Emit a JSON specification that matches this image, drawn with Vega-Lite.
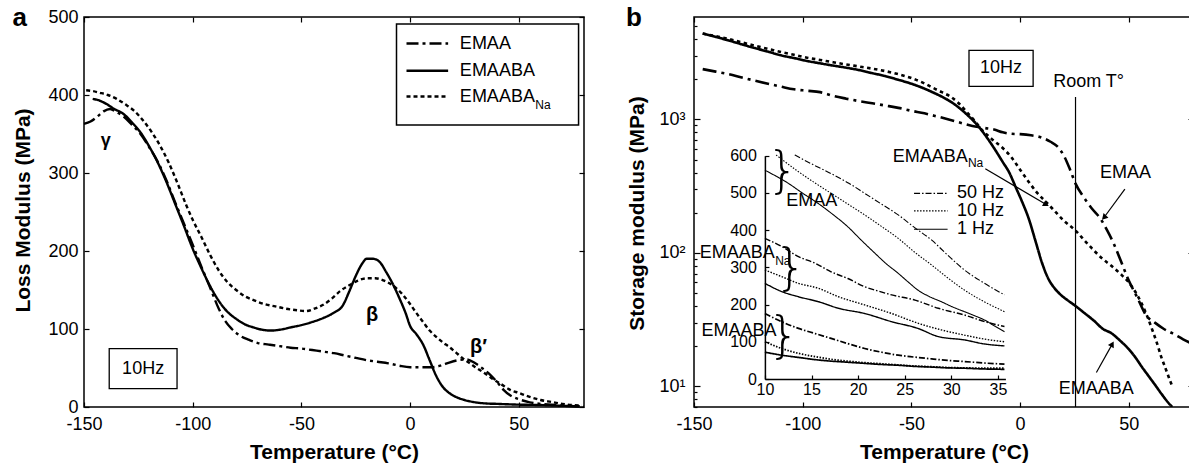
{
"$schema": "https://vega.github.io/schema/vega-lite/v6.json",
"background": "white",
"padding": {"left": 11, "top": 4, "right": 0, "bottom": 0},
"config": {
 "font": "Liberation Sans",
 "view": {"stroke": "black", "strokeWidth": 1.5},
 "axis": {"grid": false, "domain": false, "tickColor": "black", "tickWidth": 1.2, "labelColor": "black", "titleColor": "black", "labelFontSize": 18, "labelFont": "Liberation Sans", "titleFont": "Liberation Sans", "titleFontSize": 21, "titleFontWeight": "bold", "labelFlush": false, "labelOverlap": false},
 "text": {"color": "black", "font": "Liberation Sans"}
},
"datasets": {
 "a": [
  {"T":-150,"E":363,"material":"EMAA"},{"T":-147,"E":366,"material":"EMAA"},{"T":-144,"E":372,"material":"EMAA"},{"T":-141,"E":379,"material":"EMAA"},{"T":-138,"E":382,"material":"EMAA"},{"T":-135,"E":378,"material":"EMAA"},{"T":-132,"E":373,"material":"EMAA"},{"T":-128,"E":362,"material":"EMAA"},{"T":-124,"E":350,"material":"EMAA"},{"T":-120,"E":333,"material":"EMAA"},{"T":-116,"E":314,"material":"EMAA"},{"T":-112,"E":290,"material":"EMAA"},{"T":-108,"E":262,"material":"EMAA"},{"T":-104,"E":235,"material":"EMAA"},{"T":-100,"E":208,"material":"EMAA"},{"T":-96,"E":180,"material":"EMAA"},{"T":-92,"E":153,"material":"EMAA"},{"T":-88,"E":126,"material":"EMAA"},{"T":-85,"E":110,"material":"EMAA"},{"T":-82,"E":100,"material":"EMAA"},{"T":-78,"E":91,"material":"EMAA"},{"T":-74,"E":86,"material":"EMAA"},{"T":-70,"E":82,"material":"EMAA"},{"T":-65,"E":80,"material":"EMAA"},{"T":-60,"E":78,"material":"EMAA"},{"T":-55,"E":76,"material":"EMAA"},{"T":-50,"E":75,"material":"EMAA"},{"T":-45,"E":73,"material":"EMAA"},{"T":-40,"E":71,"material":"EMAA"},{"T":-35,"E":69,"material":"EMAA"},{"T":-30,"E":66,"material":"EMAA"},{"T":-25,"E":63,"material":"EMAA"},{"T":-20,"E":60,"material":"EMAA"},{"T":-15,"E":58,"material":"EMAA"},{"T":-10,"E":56,"material":"EMAA"},{"T":-5,"E":53,"material":"EMAA"},{"T":0,"E":51,"material":"EMAA"},{"T":5,"E":51,"material":"EMAA"},{"T":10,"E":51,"material":"EMAA"},{"T":14,"E":53,"material":"EMAA"},{"T":18,"E":57,"material":"EMAA"},{"T":22,"E":60,"material":"EMAA"},{"T":26,"E":61,"material":"EMAA"},{"T":30,"E":56,"material":"EMAA"},{"T":34,"E":48,"material":"EMAA"},{"T":37,"E":41,"material":"EMAA"},{"T":40,"E":32,"material":"EMAA"},{"T":43,"E":22,"material":"EMAA"},{"T":46,"E":15,"material":"EMAA"},{"T":50,"E":10,"material":"EMAA"},{"T":55,"E":6,"material":"EMAA"},{"T":60,"E":4,"material":"EMAA"},{"T":65,"E":3,"material":"EMAA"},{"T":70,"E":2,"material":"EMAA"},{"T":75,"E":1,"material":"EMAA"},{"T":80,"E":0.5,"material":"EMAA"},
  {"T":-146,"E":395,"material":"EMAABA"},{"T":-143,"E":393,"material":"EMAABA"},{"T":-140,"E":389,"material":"EMAABA"},{"T":-136,"E":382,"material":"EMAABA"},{"T":-132,"E":376,"material":"EMAABA"},{"T":-128,"E":365,"material":"EMAABA"},{"T":-124,"E":352,"material":"EMAABA"},{"T":-120,"E":334,"material":"EMAABA"},{"T":-116,"E":313,"material":"EMAABA"},{"T":-112,"E":288,"material":"EMAABA"},{"T":-108,"E":260,"material":"EMAABA"},{"T":-104,"E":232,"material":"EMAABA"},{"T":-100,"E":203,"material":"EMAABA"},{"T":-96,"E":178,"material":"EMAABA"},{"T":-92,"E":155,"material":"EMAABA"},{"T":-88,"E":136,"material":"EMAABA"},{"T":-84,"E":122,"material":"EMAABA"},{"T":-80,"E":113,"material":"EMAABA"},{"T":-76,"E":106,"material":"EMAABA"},{"T":-72,"E":102,"material":"EMAABA"},{"T":-68,"E":99,"material":"EMAABA"},{"T":-64,"E":98,"material":"EMAABA"},{"T":-60,"E":99,"material":"EMAABA"},{"T":-55,"E":102,"material":"EMAABA"},{"T":-50,"E":105,"material":"EMAABA"},{"T":-45,"E":109,"material":"EMAABA"},{"T":-40,"E":114,"material":"EMAABA"},{"T":-35,"E":121,"material":"EMAABA"},{"T":-31,"E":130,"material":"EMAABA"},{"T":-28,"E":148,"material":"EMAABA"},{"T":-25,"E":168,"material":"EMAABA"},{"T":-22,"E":184,"material":"EMAABA"},{"T":-20,"E":190,"material":"EMAABA"},{"T":-17,"E":190,"material":"EMAABA"},{"T":-14,"E":186,"material":"EMAABA"},{"T":-11,"E":173,"material":"EMAABA"},{"T":-8,"E":158,"material":"EMAABA"},{"T":-5,"E":140,"material":"EMAABA"},{"T":-2,"E":120,"material":"EMAABA"},{"T":0,"E":104,"material":"EMAABA"},{"T":3,"E":93,"material":"EMAABA"},{"T":6,"E":80,"material":"EMAABA"},{"T":9,"E":60,"material":"EMAABA"},{"T":12,"E":40,"material":"EMAABA"},{"T":15,"E":26,"material":"EMAABA"},{"T":18,"E":18,"material":"EMAABA"},{"T":21,"E":13,"material":"EMAABA"},{"T":25,"E":9,"material":"EMAABA"},{"T":30,"E":6,"material":"EMAABA"},{"T":35,"E":4.5,"material":"EMAABA"},{"T":40,"E":4,"material":"EMAABA"},{"T":50,"E":3,"material":"EMAABA"},{"T":60,"E":2.5,"material":"EMAABA"},{"T":70,"E":1.5,"material":"EMAABA"},{"T":78,"E":1,"material":"EMAABA"},
  {"T":-149,"E":406,"material":"EMAABA_Na"},{"T":-146,"E":405,"material":"EMAABA_Na"},{"T":-143,"E":403,"material":"EMAABA_Na"},{"T":-139,"E":400,"material":"EMAABA_Na"},{"T":-135,"E":395,"material":"EMAABA_Na"},{"T":-131,"E":388,"material":"EMAABA_Na"},{"T":-127,"E":380,"material":"EMAABA_Na"},{"T":-123,"E":368,"material":"EMAABA_Na"},{"T":-119,"E":353,"material":"EMAABA_Na"},{"T":-115,"E":335,"material":"EMAABA_Na"},{"T":-111,"E":313,"material":"EMAABA_Na"},{"T":-107,"E":287,"material":"EMAABA_Na"},{"T":-103,"E":259,"material":"EMAABA_Na"},{"T":-100,"E":240,"material":"EMAABA_Na"},{"T":-96,"E":218,"material":"EMAABA_Na"},{"T":-92,"E":195,"material":"EMAABA_Na"},{"T":-88,"E":175,"material":"EMAABA_Na"},{"T":-84,"E":160,"material":"EMAABA_Na"},{"T":-80,"E":150,"material":"EMAABA_Na"},{"T":-76,"E":142,"material":"EMAABA_Na"},{"T":-72,"E":137,"material":"EMAABA_Na"},{"T":-67,"E":132,"material":"EMAABA_Na"},{"T":-62,"E":129,"material":"EMAABA_Na"},{"T":-57,"E":126,"material":"EMAABA_Na"},{"T":-52,"E":124,"material":"EMAABA_Na"},{"T":-48,"E":123,"material":"EMAABA_Na"},{"T":-44,"E":126,"material":"EMAABA_Na"},{"T":-40,"E":131,"material":"EMAABA_Na"},{"T":-36,"E":139,"material":"EMAABA_Na"},{"T":-32,"E":149,"material":"EMAABA_Na"},{"T":-28,"E":156,"material":"EMAABA_Na"},{"T":-24,"E":162,"material":"EMAABA_Na"},{"T":-20,"E":165,"material":"EMAABA_Na"},{"T":-16,"E":165,"material":"EMAABA_Na"},{"T":-12,"E":162,"material":"EMAABA_Na"},{"T":-8,"E":156,"material":"EMAABA_Na"},{"T":-4,"E":146,"material":"EMAABA_Na"},{"T":0,"E":132,"material":"EMAABA_Na"},{"T":3,"E":120,"material":"EMAABA_Na"},{"T":6,"E":109,"material":"EMAABA_Na"},{"T":9,"E":98,"material":"EMAABA_Na"},{"T":12,"E":90,"material":"EMAABA_Na"},{"T":15,"E":83,"material":"EMAABA_Na"},{"T":18,"E":77,"material":"EMAABA_Na"},{"T":21,"E":70,"material":"EMAABA_Na"},{"T":24,"E":63,"material":"EMAABA_Na"},{"T":27,"E":57,"material":"EMAABA_Na"},{"T":30,"E":51,"material":"EMAABA_Na"},{"T":34,"E":44,"material":"EMAABA_Na"},{"T":38,"E":36,"material":"EMAABA_Na"},{"T":42,"E":29,"material":"EMAABA_Na"},{"T":46,"E":22,"material":"EMAABA_Na"},{"T":50,"E":18,"material":"EMAABA_Na"},{"T":55,"E":13,"material":"EMAABA_Na"},{"T":60,"E":9,"material":"EMAABA_Na"},{"T":65,"E":6.5,"material":"EMAABA_Na"},{"T":70,"E":4,"material":"EMAABA_Na"},{"T":75,"E":2.5,"material":"EMAABA_Na"},{"T":79,"E":2,"material":"EMAABA_Na"}
 ],
 "b": [
  {"T":-146,"E":2380,"material":"EMAA"},{"T":-140,"E":2280,"material":"EMAA"},{"T":-134,"E":2180,"material":"EMAA"},{"T":-128,"E":2060,"material":"EMAA"},{"T":-122,"E":1950,"material":"EMAA"},{"T":-116,"E":1850,"material":"EMAA"},{"T":-110,"E":1760,"material":"EMAA"},{"T":-104,"E":1680,"material":"EMAA"},{"T":-98,"E":1640,"material":"EMAA"},{"T":-92,"E":1600,"material":"EMAA"},{"T":-86,"E":1500,"material":"EMAA"},{"T":-80,"E":1430,"material":"EMAA"},{"T":-74,"E":1370,"material":"EMAA"},{"T":-68,"E":1320,"material":"EMAA"},{"T":-62,"E":1270,"material":"EMAA"},{"T":-56,"E":1220,"material":"EMAA"},{"T":-50,"E":1160,"material":"EMAA"},{"T":-44,"E":1110,"material":"EMAA"},{"T":-38,"E":1050,"material":"EMAA"},{"T":-32,"E":990,"material":"EMAA"},{"T":-26,"E":930,"material":"EMAA"},{"T":-20,"E":880,"material":"EMAA"},{"T":-16,"E":860,"material":"EMAA"},{"T":-12,"E":840,"material":"EMAA"},{"T":-8,"E":800,"material":"EMAA"},{"T":-4,"E":780,"material":"EMAA"},{"T":0,"E":775,"material":"EMAA"},{"T":5,"E":760,"material":"EMAA"},{"T":10,"E":730,"material":"EMAA"},{"T":14,"E":680,"material":"EMAA"},{"T":17,"E":630,"material":"EMAA"},{"T":20,"E":540,"material":"EMAA"},{"T":23,"E":420,"material":"EMAA"},{"T":25.5,"E":330,"material":"EMAA"},{"T":29,"E":265,"material":"EMAA"},{"T":33,"E":215,"material":"EMAA"},{"T":37,"E":180,"material":"EMAA"},{"T":40,"E":148,"material":"EMAA"},{"T":43,"E":118,"material":"EMAA"},{"T":46,"E":90,"material":"EMAA"},{"T":50,"E":62,"material":"EMAA"},{"T":54,"E":46,"material":"EMAA"},{"T":58,"E":34,"material":"EMAA"},{"T":62,"E":30,"material":"EMAA"},{"T":66,"E":27,"material":"EMAA"},{"T":70,"E":25,"material":"EMAA"},{"T":75,"E":22.5,"material":"EMAA"},{"T":80,"E":20.5,"material":"EMAA"},
  {"T":-146,"E":4400,"material":"EMAABA"},{"T":-140,"E":4150,"material":"EMAABA"},{"T":-134,"E":3900,"material":"EMAABA"},{"T":-128,"E":3650,"material":"EMAABA"},{"T":-122,"E":3420,"material":"EMAABA"},{"T":-116,"E":3220,"material":"EMAABA"},{"T":-110,"E":3020,"material":"EMAABA"},{"T":-104,"E":2880,"material":"EMAABA"},{"T":-98,"E":2740,"material":"EMAABA"},{"T":-92,"E":2630,"material":"EMAABA"},{"T":-86,"E":2530,"material":"EMAABA"},{"T":-80,"E":2440,"material":"EMAABA"},{"T":-74,"E":2340,"material":"EMAABA"},{"T":-68,"E":2220,"material":"EMAABA"},{"T":-62,"E":2110,"material":"EMAABA"},{"T":-56,"E":1980,"material":"EMAABA"},{"T":-50,"E":1850,"material":"EMAABA"},{"T":-44,"E":1700,"material":"EMAABA"},{"T":-40,"E":1590,"material":"EMAABA"},{"T":-36,"E":1480,"material":"EMAABA"},{"T":-32,"E":1360,"material":"EMAABA"},{"T":-28,"E":1220,"material":"EMAABA"},{"T":-24,"E":1070,"material":"EMAABA"},{"T":-20,"E":920,"material":"EMAABA"},{"T":-16,"E":760,"material":"EMAABA"},{"T":-12,"E":610,"material":"EMAABA"},{"T":-8,"E":480,"material":"EMAABA"},{"T":-5,"E":400,"material":"EMAABA"},{"T":-2,"E":310,"material":"EMAABA"},{"T":1,"E":240,"material":"EMAABA"},{"T":4,"E":180,"material":"EMAABA"},{"T":7,"E":124,"material":"EMAABA"},{"T":10,"E":85,"material":"EMAABA"},{"T":13,"E":64,"material":"EMAABA"},{"T":16,"E":54,"material":"EMAABA"},{"T":19,"E":48,"material":"EMAABA"},{"T":22,"E":44,"material":"EMAABA"},{"T":25.5,"E":40,"material":"EMAABA"},{"T":30,"E":35,"material":"EMAABA"},{"T":34,"E":31,"material":"EMAABA"},{"T":38,"E":27,"material":"EMAABA"},{"T":42,"E":25,"material":"EMAABA"},{"T":46,"E":22,"material":"EMAABA"},{"T":50,"E":19,"material":"EMAABA"},{"T":53,"E":16.5,"material":"EMAABA"},{"T":56,"E":14,"material":"EMAABA"},{"T":59,"E":12,"material":"EMAABA"},{"T":62,"E":10.3,"material":"EMAABA"},{"T":65,"E":8.8,"material":"EMAABA"},{"T":68,"E":7.6,"material":"EMAABA"},{"T":70,"E":7,"material":"EMAABA"},
  {"T":-146,"E":4400,"material":"EMAABA_Na"},{"T":-140,"E":4200,"material":"EMAABA_Na"},{"T":-134,"E":4000,"material":"EMAABA_Na"},{"T":-128,"E":3780,"material":"EMAABA_Na"},{"T":-122,"E":3560,"material":"EMAABA_Na"},{"T":-116,"E":3380,"material":"EMAABA_Na"},{"T":-110,"E":3200,"material":"EMAABA_Na"},{"T":-104,"E":3050,"material":"EMAABA_Na"},{"T":-98,"E":2900,"material":"EMAABA_Na"},{"T":-92,"E":2790,"material":"EMAABA_Na"},{"T":-86,"E":2680,"material":"EMAABA_Na"},{"T":-80,"E":2580,"material":"EMAABA_Na"},{"T":-74,"E":2490,"material":"EMAABA_Na"},{"T":-68,"E":2400,"material":"EMAABA_Na"},{"T":-62,"E":2300,"material":"EMAABA_Na"},{"T":-56,"E":2180,"material":"EMAABA_Na"},{"T":-50,"E":2040,"material":"EMAABA_Na"},{"T":-44,"E":1860,"material":"EMAABA_Na"},{"T":-40,"E":1720,"material":"EMAABA_Na"},{"T":-36,"E":1600,"material":"EMAABA_Na"},{"T":-32,"E":1480,"material":"EMAABA_Na"},{"T":-28,"E":1310,"material":"EMAABA_Na"},{"T":-24,"E":1110,"material":"EMAABA_Na"},{"T":-21,"E":980,"material":"EMAABA_Na"},{"T":-18,"E":850,"material":"EMAABA_Na"},{"T":-15,"E":760,"material":"EMAABA_Na"},{"T":-12,"E":690,"material":"EMAABA_Na"},{"T":-8,"E":610,"material":"EMAABA_Na"},{"T":-4,"E":520,"material":"EMAABA_Na"},{"T":0,"E":420,"material":"EMAABA_Na"},{"T":4,"E":340,"material":"EMAABA_Na"},{"T":8,"E":280,"material":"EMAABA_Na"},{"T":12,"E":240,"material":"EMAABA_Na"},{"T":16,"E":205,"material":"EMAABA_Na"},{"T":20,"E":175,"material":"EMAABA_Na"},{"T":25.5,"E":147,"material":"EMAABA_Na"},{"T":30,"E":122,"material":"EMAABA_Na"},{"T":34,"E":104,"material":"EMAABA_Na"},{"T":38,"E":90,"material":"EMAABA_Na"},{"T":42,"E":80,"material":"EMAABA_Na"},{"T":46,"E":70,"material":"EMAABA_Na"},{"T":50,"E":60,"material":"EMAABA_Na"},{"T":54,"E":48,"material":"EMAABA_Na"},{"T":58,"E":35,"material":"EMAABA_Na"},{"T":61,"E":26,"material":"EMAABA_Na"},{"T":63,"E":21,"material":"EMAABA_Na"},{"T":65,"E":16.5,"material":"EMAABA_Na"},{"T":67,"E":13.5,"material":"EMAABA_Na"},{"T":69,"E":11,"material":"EMAABA_Na"},{"T":70,"E":10,"material":"EMAABA_Na"}
 ],
 "inset": [
  {"T":13.2,"E":602,"material":"EMAA","freq":"50 Hz"},{"T":15,"E":578,"material":"EMAA","freq":"50 Hz"},{"T":17.1,"E":552,"material":"EMAA","freq":"50 Hz"},{"T":19,"E":526,"material":"EMAA","freq":"50 Hz"},{"T":20.7,"E":499,"material":"EMAA","freq":"50 Hz"},{"T":22.5,"E":470,"material":"EMAA","freq":"50 Hz"},{"T":24.3,"E":441,"material":"EMAA","freq":"50 Hz"},{"T":26,"E":408,"material":"EMAA","freq":"50 Hz"},{"T":27.9,"E":373,"material":"EMAA","freq":"50 Hz"},{"T":29.6,"E":333,"material":"EMAA","freq":"50 Hz"},{"T":31.4,"E":293,"material":"EMAA","freq":"50 Hz"},{"T":33.5,"E":258,"material":"EMAA","freq":"50 Hz"},{"T":35.7,"E":226,"material":"EMAA","freq":"50 Hz"},
  {"T":11.2,"E":602,"material":"EMAA","freq":"10 Hz"},{"T":13.6,"E":557,"material":"EMAA","freq":"10 Hz"},{"T":15.3,"E":528,"material":"EMAA","freq":"10 Hz"},{"T":17.1,"E":499,"material":"EMAA","freq":"10 Hz"},{"T":18.9,"E":470,"material":"EMAA","freq":"10 Hz"},{"T":20.7,"E":441,"material":"EMAA","freq":"10 Hz"},{"T":22.5,"E":410,"material":"EMAA","freq":"10 Hz"},{"T":24.3,"E":378,"material":"EMAA","freq":"10 Hz"},{"T":26,"E":342,"material":"EMAA","freq":"10 Hz"},{"T":27.9,"E":306,"material":"EMAA","freq":"10 Hz"},{"T":29.6,"E":272,"material":"EMAA","freq":"10 Hz"},{"T":31.4,"E":239,"material":"EMAA","freq":"10 Hz"},{"T":33.5,"E":208,"material":"EMAA","freq":"10 Hz"},{"T":35.7,"E":181,"material":"EMAA","freq":"10 Hz"},
  {"T":10,"E":561,"material":"EMAA","freq":"1 Hz"},{"T":11.2,"E":545,"material":"EMAA","freq":"1 Hz"},{"T":12.5,"E":526,"material":"EMAA","freq":"1 Hz"},{"T":14,"E":500,"material":"EMAA","freq":"1 Hz"},{"T":15.7,"E":472,"material":"EMAA","freq":"1 Hz"},{"T":17.3,"E":442,"material":"EMAA","freq":"1 Hz"},{"T":18.9,"E":409,"material":"EMAA","freq":"1 Hz"},{"T":20.3,"E":374,"material":"EMAA","freq":"1 Hz"},{"T":21.8,"E":338,"material":"EMAA","freq":"1 Hz"},{"T":23,"E":310,"material":"EMAA","freq":"1 Hz"},{"T":24.3,"E":284,"material":"EMAA","freq":"1 Hz"},{"T":25.4,"E":260,"material":"EMAA","freq":"1 Hz"},{"T":26.4,"E":239,"material":"EMAA","freq":"1 Hz"},{"T":27.6,"E":222,"material":"EMAA","freq":"1 Hz"},{"T":28.9,"E":208,"material":"EMAA","freq":"1 Hz"},{"T":30.1,"E":194,"material":"EMAA","freq":"1 Hz"},{"T":31.4,"E":181,"material":"EMAA","freq":"1 Hz"},{"T":32.5,"E":170,"material":"EMAA","freq":"1 Hz"},{"T":33.6,"E":158,"material":"EMAA","freq":"1 Hz"},{"T":34.6,"E":143,"material":"EMAA","freq":"1 Hz"},{"T":35.7,"E":127,"material":"EMAA","freq":"1 Hz"},
  {"T":10,"E":378,"material":"EMAABA_Na","freq":"50 Hz"},{"T":11.8,"E":356,"material":"EMAABA_Na","freq":"50 Hz"},{"T":13.6,"E":329,"material":"EMAABA_Na","freq":"50 Hz"},{"T":15.4,"E":311,"material":"EMAABA_Na","freq":"50 Hz"},{"T":17.1,"E":288,"material":"EMAABA_Na","freq":"50 Hz"},{"T":18.9,"E":270,"material":"EMAABA_Na","freq":"50 Hz"},{"T":20.7,"E":248,"material":"EMAABA_Na","freq":"50 Hz"},{"T":22.2,"E":236,"material":"EMAABA_Na","freq":"50 Hz"},{"T":23.6,"E":226,"material":"EMAABA_Na","freq":"50 Hz"},{"T":26.1,"E":212,"material":"EMAABA_Na","freq":"50 Hz"},{"T":28.6,"E":190,"material":"EMAABA_Na","freq":"50 Hz"},{"T":31.4,"E":172,"material":"EMAABA_Na","freq":"50 Hz"},{"T":33.6,"E":154,"material":"EMAABA_Na","freq":"50 Hz"},{"T":35.7,"E":141,"material":"EMAABA_Na","freq":"50 Hz"},
  {"T":10,"E":293,"material":"EMAABA_Na","freq":"10 Hz"},{"T":11.8,"E":275,"material":"EMAABA_Na","freq":"10 Hz"},{"T":13.6,"E":257,"material":"EMAABA_Na","freq":"10 Hz"},{"T":15.7,"E":244,"material":"EMAABA_Na","freq":"10 Hz"},{"T":17.9,"E":221,"material":"EMAABA_Na","freq":"10 Hz"},{"T":20.7,"E":199,"material":"EMAABA_Na","freq":"10 Hz"},{"T":23.6,"E":176,"material":"EMAABA_Na","freq":"10 Hz"},{"T":26.4,"E":150,"material":"EMAABA_Na","freq":"10 Hz"},{"T":28.9,"E":132,"material":"EMAABA_Na","freq":"10 Hz"},{"T":31.4,"E":118,"material":"EMAABA_Na","freq":"10 Hz"},{"T":33.6,"E":107,"material":"EMAABA_Na","freq":"10 Hz"},{"T":35.7,"E":100,"material":"EMAABA_Na","freq":"10 Hz"},
  {"T":10,"E":257,"material":"EMAABA_Na","freq":"1 Hz"},{"T":11.8,"E":235,"material":"EMAABA_Na","freq":"1 Hz"},{"T":13.6,"E":221,"material":"EMAABA_Na","freq":"1 Hz"},{"T":15.7,"E":208,"material":"EMAABA_Na","freq":"1 Hz"},{"T":17.9,"E":190,"material":"EMAABA_Na","freq":"1 Hz"},{"T":20.7,"E":176,"material":"EMAABA_Na","freq":"1 Hz"},{"T":23.6,"E":154,"material":"EMAABA_Na","freq":"1 Hz"},{"T":26.4,"E":136,"material":"EMAABA_Na","freq":"1 Hz"},{"T":28.6,"E":114,"material":"EMAABA_Na","freq":"1 Hz"},{"T":31.4,"E":105,"material":"EMAABA_Na","freq":"1 Hz"},{"T":33.6,"E":94,"material":"EMAABA_Na","freq":"1 Hz"},{"T":35.7,"E":89,"material":"EMAABA_Na","freq":"1 Hz"},
  {"T":10,"E":176,"material":"EMAABA","freq":"50 Hz"},{"T":11.8,"E":154,"material":"EMAABA","freq":"50 Hz"},{"T":13.6,"E":136,"material":"EMAABA","freq":"50 Hz"},{"T":15.4,"E":122,"material":"EMAABA","freq":"50 Hz"},{"T":17.1,"E":109,"material":"EMAABA","freq":"50 Hz"},{"T":18.9,"E":95,"material":"EMAABA","freq":"50 Hz"},{"T":20.7,"E":82,"material":"EMAABA","freq":"50 Hz"},{"T":22.5,"E":72,"material":"EMAABA","freq":"50 Hz"},{"T":24.3,"E":64,"material":"EMAABA","freq":"50 Hz"},{"T":26,"E":59,"material":"EMAABA","freq":"50 Hz"},{"T":27.9,"E":54,"material":"EMAABA","freq":"50 Hz"},{"T":29.6,"E":50,"material":"EMAABA","freq":"50 Hz"},{"T":31.4,"E":47,"material":"EMAABA","freq":"50 Hz"},{"T":33.5,"E":43,"material":"EMAABA","freq":"50 Hz"},{"T":35.7,"E":40,"material":"EMAABA","freq":"50 Hz"},
  {"T":10,"E":100,"material":"EMAABA","freq":"10 Hz"},{"T":11.8,"E":82,"material":"EMAABA","freq":"10 Hz"},{"T":13.6,"E":69,"material":"EMAABA","freq":"10 Hz"},{"T":15.4,"E":60,"material":"EMAABA","freq":"10 Hz"},{"T":17.1,"E":53,"material":"EMAABA","freq":"10 Hz"},{"T":18.9,"E":48,"material":"EMAABA","freq":"10 Hz"},{"T":20.7,"E":44,"material":"EMAABA","freq":"10 Hz"},{"T":22.5,"E":41,"material":"EMAABA","freq":"10 Hz"},{"T":24.3,"E":38,"material":"EMAABA","freq":"10 Hz"},{"T":26,"E":35,"material":"EMAABA","freq":"10 Hz"},{"T":27.9,"E":33,"material":"EMAABA","freq":"10 Hz"},{"T":29.6,"E":31,"material":"EMAABA","freq":"10 Hz"},{"T":31.4,"E":30,"material":"EMAABA","freq":"10 Hz"},{"T":33.5,"E":29,"material":"EMAABA","freq":"10 Hz"},{"T":35.7,"E":29,"material":"EMAABA","freq":"10 Hz"},
  {"T":10,"E":72,"material":"EMAABA","freq":"1 Hz"},{"T":11.8,"E":64,"material":"EMAABA","freq":"1 Hz"},{"T":13.6,"E":58,"material":"EMAABA","freq":"1 Hz"},{"T":15.4,"E":52,"material":"EMAABA","freq":"1 Hz"},{"T":17.1,"E":48,"material":"EMAABA","freq":"1 Hz"},{"T":18.9,"E":45,"material":"EMAABA","freq":"1 Hz"},{"T":20.7,"E":42,"material":"EMAABA","freq":"1 Hz"},{"T":22.5,"E":39,"material":"EMAABA","freq":"1 Hz"},{"T":24.3,"E":37,"material":"EMAABA","freq":"1 Hz"},{"T":26,"E":34,"material":"EMAABA","freq":"1 Hz"},{"T":27.9,"E":32,"material":"EMAABA","freq":"1 Hz"},{"T":29.6,"E":30,"material":"EMAABA","freq":"1 Hz"},{"T":31.4,"E":29,"material":"EMAABA","freq":"1 Hz"},{"T":33.5,"E":27,"material":"EMAABA","freq":"1 Hz"},{"T":35.7,"E":26,"material":"EMAABA","freq":"1 Hz"}
 ]
},
"spacing": 110,
"bounds": "flush",
"resolve": {"scale": {"x": "independent", "y": "independent", "strokeDash": "independent", "strokeWidth": "independent"}},
"hconcat": [
 {
  "width": 500, "height": 390,
  "data": {"name": "a"},
  "resolve": {"axis": {"x": "independent", "y": "independent"}},
  "layer": [
   {"mark": {"type": "line", "color": "black", "strokeWidth": 2.4, "interpolate": "monotone"},
    "encoding": {
     "x": {"field": "T", "type": "quantitative", "scale": {"domain": [-150, 80], "nice": false, "zero": false},
           "axis": {"orient": "bottom", "values": [-150, -100, -50, 0, 50], "labelExpr": "'' + datum.value", "title": "Temperature (°C)", "tickSize": -5, "labelPadding": 27, "labelBaseline": "alphabetic", "titleY": 51, "titleBaseline": "alphabetic"}},
     "y": {"field": "E", "type": "quantitative", "scale": {"domain": [0, 500], "nice": false},
           "axis": {"orient": "left", "values": [0, 100, 200, 300, 400, 500], "title": "Loss Modulus (MPa)", "tickSize": -5, "labelPadding": 11, "titleX": -55, "titleY": 193, "titleBaseline": "alphabetic", "titleAngle": -90}},
     "strokeDash": {"field": "material", "type": "nominal", "scale": {"domain": ["EMAA", "EMAABA", "EMAABA_Na"], "range": [[12, 4, 3, 4], [1, 0], [4, 3]]}, "legend": null}
    }},
   {"mark": {"type": "point", "opacity": 0},
    "encoding": {
     "x": {"field": "T", "type": "quantitative", "axis": {"orient": "top", "values": [-150, -100, -50, 0, 50], "labels": false, "title": null, "tickSize": -5}},
     "y": {"field": "E", "type": "quantitative", "axis": {"orient": "right", "values": [0, 100, 200, 300, 400, 500], "labels": false, "title": null, "tickSize": -5}}
    }},
   {"data": {"values": [{}]}, "mark": {"type": "text", "align": "left", "baseline": "alphabetic", "fontSize": 26, "fontWeight": "bold"},
    "encoding": {"x": {"datum": -182.9, "type": "quantitative", "axis": null}, "y": {"datum": 488.5, "type": "quantitative", "axis": null}, "text": {"value": "a"}}},
   {"data": {"values": [{}]}, "mark": {"type": "rect", "fill": "white", "stroke": "black", "strokeWidth": 1.5},
    "encoding": {"x": {"datum": -6.25, "type": "quantitative", "axis": null}, "x2": {"datum": 77.5}, "y": {"datum": 361.5, "type": "quantitative", "axis": null}, "y2": {"datum": 491}}},
   {"data": {"values": [{}]}, "mark": {"type": "rule", "color": "black", "strokeWidth": 2.5, "strokeDash": [12, 4, 3, 4]},
    "encoding": {"x": {"datum": -1.65, "type": "quantitative", "axis": null}, "x2": {"datum": 17.5}, "y": {"datum": 466, "type": "quantitative", "axis": null}}},
   {"data": {"values": [{}]}, "mark": {"type": "rule", "color": "black", "strokeWidth": 2.5},
    "encoding": {"x": {"datum": -1.65, "type": "quantitative", "axis": null}, "x2": {"datum": 17.5}, "y": {"datum": 431, "type": "quantitative", "axis": null}}},
   {"data": {"values": [{}]}, "mark": {"type": "rule", "color": "black", "strokeWidth": 2.5, "strokeDash": [4, 3]},
    "encoding": {"x": {"datum": -1.65, "type": "quantitative", "axis": null}, "x2": {"datum": 17.5}, "y": {"datum": 398, "type": "quantitative", "axis": null}}},
   {"data": {"values": [{}]}, "mark": {"type": "text", "align": "left", "baseline": "middle", "fontSize": 18},
    "encoding": {"x": {"datum": 22.9, "type": "quantitative", "axis": null}, "y": {"datum": 466, "type": "quantitative", "axis": null}, "text": {"value": "EMAA"}}},
   {"data": {"values": [{}]}, "mark": {"type": "text", "align": "left", "baseline": "middle", "fontSize": 18},
    "encoding": {"x": {"datum": 22.9, "type": "quantitative", "axis": null}, "y": {"datum": 431, "type": "quantitative", "axis": null}, "text": {"value": "EMAABA"}}},
   {"data": {"values": [{}]}, "mark": {"type": "text", "align": "left", "baseline": "middle", "fontSize": 18},
    "encoding": {"x": {"datum": 22.9, "type": "quantitative", "axis": null}, "y": {"datum": 398, "type": "quantitative", "axis": null}, "text": {"value": "EMAABA"}}},
   {"data": {"values": [{}]}, "mark": {"type": "text", "align": "left", "baseline": "middle", "fontSize": 12},
    "encoding": {"x": {"datum": 57.6, "type": "quantitative", "axis": null}, "y": {"datum": 387, "type": "quantitative", "axis": null}, "text": {"value": "Na"}}},
   {"data": {"values": [{}]}, "mark": {"type": "text", "align": "center", "baseline": "middle", "fontSize": 18, "fontWeight": "bold"},
    "encoding": {"x": {"datum": -140, "type": "quantitative", "axis": null}, "y": {"datum": 341, "type": "quantitative", "axis": null}, "text": {"value": "γ"}}},
   {"data": {"values": [{}]}, "mark": {"type": "text", "align": "center", "baseline": "middle", "fontSize": 20, "fontWeight": "bold"},
    "encoding": {"x": {"datum": -17.5, "type": "quantitative", "axis": null}, "y": {"datum": 117.5, "type": "quantitative", "axis": null}, "text": {"value": "β"}}},
   {"data": {"values": [{}]}, "mark": {"type": "text", "align": "center", "baseline": "middle", "fontSize": 20, "fontWeight": "bold"},
    "encoding": {"x": {"datum": 31.5, "type": "quantitative", "axis": null}, "y": {"datum": 77, "type": "quantitative", "axis": null}, "text": {"value": "β′"}}},
   {"data": {"values": [{}]}, "mark": {"type": "rect", "fill": "white", "stroke": "black", "strokeWidth": 1.3},
    "encoding": {"x": {"datum": -138.4, "type": "quantitative", "axis": null}, "x2": {"datum": -107.2}, "y": {"datum": 23.5, "type": "quantitative", "axis": null}, "y2": {"datum": 74.8}}},
   {"data": {"values": [{}]}, "mark": {"type": "text", "align": "center", "baseline": "middle", "fontSize": 18},
    "encoding": {"x": {"datum": -122.8, "type": "quantitative", "axis": null}, "y": {"datum": 49, "type": "quantitative", "axis": null}, "text": {"value": "10Hz"}}}
  ]
 },
 {
  "width": 500, "height": 390,
  "resolve": {"scale": {"x": "independent", "y": "independent", "strokeDash": "independent", "strokeWidth": "independent"}, "axis": {"x": "independent", "y": "independent"}},
  "layer": [
   {
    "resolve": {"axis": {"x": "independent", "y": "independent"}},
    "layer": [
     {"data": {"name": "b"}, "mark": {"type": "line", "color": "black", "strokeWidth": 2.6, "interpolate": "monotone", "clip": true},
      "encoding": {
       "x": {"field": "T", "type": "quantitative", "scale": {"domain": [-150, 80], "nice": false, "zero": false},
             "axis": {"orient": "bottom", "values": [-150, -100, -50, 0, 50], "labelExpr": "'' + datum.value", "title": "Temperature (°C)", "tickSize": -5, "labelPadding": 27, "labelBaseline": "alphabetic", "titleY": 51, "titleBaseline": "alphabetic"}},
       "y": {"field": "E", "type": "quantitative", "scale": {"type": "log", "domain": [7, 5850], "nice": false},
             "axis": {"orient": "left", "values": [7, 8, 9, 10, 20, 30, 40, 50, 60, 70, 80, 90, 100, 200, 300, 400, 500, 600, 700, 800, 900, 1000, 2000, 3000, 4000, 5000],
                      "labelExpr": "datum.value == 10 ? '10¹' : datum.value == 100 ? '10²' : datum.value == 1000 ? '10³' : ''",
                      "tickSize": {"condition": {"test": "datum.value == 10 || datum.value == 100 || datum.value == 1000", "value": -6}, "value": -3},
                      "labelPadding": 15, "title": "Storage modulus (MPa)", "titleX": -51, "titleY": 196, "titleBaseline": "alphabetic", "titleAngle": -90}},
       "strokeDash": {"field": "material", "type": "nominal", "scale": {"domain": ["EMAA", "EMAABA", "EMAABA_Na"], "range": [[14, 5, 3, 5], [1, 0], [3.5, 3.5]]}, "legend": null}
      }},
     {"data": {"name": "b"}, "mark": {"type": "point", "opacity": 0},
      "encoding": {
       "x": {"field": "T", "type": "quantitative", "axis": {"orient": "top", "values": [-150, -100, -50, 0, 50], "labels": false, "title": null, "tickSize": -5}},
       "y": {"field": "E", "type": "quantitative", "axis": {"orient": "right", "values": [7, 8, 9, 10, 20, 30, 40, 50, 60, 70, 80, 90, 100, 200, 300, 400, 500, 600, 700, 800, 900, 1000, 2000, 3000, 4000, 5000], "labels": false, "title": null,
             "tickSize": {"condition": {"test": "datum.value == 10 || datum.value == 100 || datum.value == 1000", "value": -6}, "value": -3}}}
      }},
     {"data": {"values": [{}]}, "mark": {"type": "text", "align": "left", "baseline": "alphabetic", "fontSize": 26, "fontWeight": "bold"},
      "encoding": {"x": {"datum": -181.3, "type": "quantitative", "axis": null}, "y": {"datum": 5005, "type": "quantitative", "axis": null}, "text": {"value": "b"}}},
     {"data": {"values": [{}]}, "mark": {"type": "rect", "fill": "white", "stroke": "black", "strokeWidth": 1.3},
      "encoding": {"x": {"datum": -23.5, "type": "quantitative", "axis": null}, "x2": {"datum": 6}, "y": {"datum": 1768, "type": "quantitative", "axis": null}, "y2": {"datum": 3293}}},
     {"data": {"values": [{}]}, "mark": {"type": "text", "align": "center", "baseline": "middle", "fontSize": 18},
      "encoding": {"x": {"datum": -8.75, "type": "quantitative", "axis": null}, "y": {"datum": 2413, "type": "quantitative", "axis": null}, "text": {"value": "10Hz"}}},
     {"data": {"values": [{}]}, "mark": {"type": "rule", "color": "black", "strokeWidth": 1.2},
      "encoding": {"x": {"datum": 25.5, "type": "quantitative", "axis": null}, "y": {"datum": 1470, "type": "quantitative", "axis": null}, "y2": {"datum": 7}}},
     {"data": {"values": [{}]}, "mark": {"type": "text", "align": "center", "baseline": "middle", "fontSize": 18},
      "encoding": {"x": {"datum": 31.5, "type": "quantitative", "axis": null}, "y": {"datum": 1900, "type": "quantitative", "axis": null}, "text": {"value": "Room T°"}}},
     {"data": {"values": [{}]}, "mark": {"type": "text", "align": "center", "baseline": "middle", "fontSize": 18},
      "encoding": {"x": {"datum": 48.5, "type": "quantitative", "axis": null}, "y": {"datum": 400, "type": "quantitative", "axis": null}, "text": {"value": "EMAA"}}},
     {"data": {"values": [{}]}, "mark": {"type": "rule", "color": "black", "strokeWidth": 1.2},
      "encoding": {"x": {"datum": 48.2, "type": "quantitative", "axis": null}, "y": {"datum": 300, "type": "quantitative", "axis": null}, "x2": {"datum": 38.6}, "y2": {"datum": 184}}},
     {"data": {"values": [{}]}, "mark": {"type": "point", "shape": "triangle-right", "filled": true, "color": "black", "size": 45, "angle": 133, "opacity": 1},
      "encoding": {"x": {"datum": 38.6, "type": "quantitative", "axis": null}, "y": {"datum": 184, "type": "quantitative", "axis": null}}},
     {"data": {"values": [{}]}, "mark": {"type": "text", "align": "left", "baseline": "middle", "fontSize": 18},
      "encoding": {"x": {"datum": -58.6, "type": "quantitative", "axis": null}, "y": {"datum": 522, "type": "quantitative", "axis": null}, "text": {"value": "EMAABA"}}},
     {"data": {"values": [{}]}, "mark": {"type": "text", "align": "left", "baseline": "middle", "fontSize": 12},
      "encoding": {"x": {"datum": -24, "type": "quantitative", "axis": null}, "y": {"datum": 468, "type": "quantitative", "axis": null}, "text": {"value": "Na"}}},
     {"data": {"values": [{}]}, "mark": {"type": "rule", "color": "black", "strokeWidth": 1.2},
      "encoding": {"x": {"datum": -16, "type": "quantitative", "axis": null}, "y": {"datum": 427, "type": "quantitative", "axis": null}, "x2": {"datum": 12}, "y2": {"datum": 230}}},
     {"data": {"values": [{}]}, "mark": {"type": "point", "shape": "triangle-right", "filled": true, "color": "black", "size": 45, "angle": 30.5, "opacity": 1},
      "encoding": {"x": {"datum": 12, "type": "quantitative", "axis": null}, "y": {"datum": 230, "type": "quantitative", "axis": null}}},
     {"data": {"values": [{}]}, "mark": {"type": "text", "align": "center", "baseline": "middle", "fontSize": 18},
      "encoding": {"x": {"datum": 35, "type": "quantitative", "axis": null}, "y": {"datum": 9.5, "type": "quantitative", "axis": null}, "text": {"value": "EMAABA"}}},
     {"data": {"values": [{}]}, "mark": {"type": "rule", "color": "black", "strokeWidth": 1.2},
      "encoding": {"x": {"datum": 35.1, "type": "quantitative", "axis": null}, "y": {"datum": 12.7, "type": "quantitative", "axis": null}, "x2": {"datum": 42.4}, "y2": {"datum": 20.7}}},
     {"data": {"values": [{}]}, "mark": {"type": "point", "shape": "triangle-right", "filled": true, "color": "black", "size": 45, "angle": 299, "opacity": 1},
      "encoding": {"x": {"datum": 42.4, "type": "quantitative", "axis": null}, "y": {"datum": 20.7, "type": "quantitative", "axis": null}}}
    ]
   },
   {
    "resolve": {"axis": {"x": "independent", "y": "independent"}},
    "layer": [
     {"data": {"name": "inset"}, "mark": {"type": "line", "color": "black", "interpolate": "monotone"},
      "encoding": {
       "x": {"field": "T", "type": "quantitative", "scale": {"domain": [10, 35.8], "range": [70.9, 311.4], "nice": false, "zero": false},
             "axis": {"orient": "bottom", "offset": -28, "values": [10, 15, 20, 25, 30, 35], "title": null, "domain": true, "domainColor": "black", "domainWidth": 1.5, "tickSize": -4, "labelPadding": 19.5, "labelBaseline": "alphabetic", "labelFontSize": 16}},
       "y": {"field": "E", "type": "quantitative", "scale": {"domain": [0, 600], "range": [362, 138.7], "nice": false, "zero": false},
             "axis": {"orient": "left", "offset": -70.9, "values": [0, 100, 200, 300, 400, 500, 600], "title": null, "domain": true, "domainColor": "black", "domainWidth": 1.5, "tickSize": -4, "labelPadding": 12.5, "labelFontSize": 16}},
       "strokeDash": {"field": "freq", "type": "nominal", "scale": {"domain": ["50 Hz", "10 Hz", "1 Hz"], "range": [[6, 2, 1.5, 2], [1.5, 1.5], [1, 0]]}, "legend": null},
       "strokeWidth": {"field": "material", "type": "nominal", "scale": {"domain": ["EMAA", "EMAABA_Na", "EMAABA"], "range": [1.1, 1.7, 1.3]}, "legend": null},
       "detail": {"field": "material", "type": "nominal"}
      }},
     {"data": {"values": [{}]}, "mark": {"type": "rule", "color": "black", "strokeWidth": 1.2, "strokeDash": [6, 2, 1.5, 2]},
      "encoding": {"x": {"datum": 26.0, "type": "quantitative", "axis": null}, "x2": {"datum": 29.6}, "y": {"datum": 499, "type": "quantitative", "axis": null}}},
     {"data": {"values": [{}]}, "mark": {"type": "rule", "color": "black", "strokeWidth": 1.2, "strokeDash": [1.5, 1.5]},
      "encoding": {"x": {"datum": 26.0, "type": "quantitative", "axis": null}, "x2": {"datum": 29.6}, "y": {"datum": 451.6, "type": "quantitative", "axis": null}}},
     {"data": {"values": [{}]}, "mark": {"type": "rule", "color": "black", "strokeWidth": 1.2},
      "encoding": {"x": {"datum": 26.0, "type": "quantitative", "axis": null}, "x2": {"datum": 29.6}, "y": {"datum": 402.4, "type": "quantitative", "axis": null}}},
     {"data": {"values": [{}]}, "mark": {"type": "text", "align": "left", "baseline": "middle", "fontSize": 18},
      "encoding": {"x": {"datum": 30.6, "type": "quantitative", "axis": null}, "y": {"datum": 499, "type": "quantitative", "axis": null}, "text": {"value": "50 Hz"}}},
     {"data": {"values": [{}]}, "mark": {"type": "text", "align": "left", "baseline": "middle", "fontSize": 18},
      "encoding": {"x": {"datum": 30.6, "type": "quantitative", "axis": null}, "y": {"datum": 451.6, "type": "quantitative", "axis": null}, "text": {"value": "10 Hz"}}},
     {"data": {"values": [{}]}, "mark": {"type": "text", "align": "left", "baseline": "middle", "fontSize": 18},
      "encoding": {"x": {"datum": 30.6, "type": "quantitative", "axis": null}, "y": {"datum": 402.4, "type": "quantitative", "axis": null}, "text": {"value": "1 Hz"}}},
     {"data": {"values": [{}]}, "mark": {"type": "text", "align": "left", "baseline": "middle", "fontSize": 18},
      "encoding": {"x": {"datum": 12.3, "type": "quantitative", "axis": null}, "y": {"datum": 479, "type": "quantitative", "axis": null}, "text": {"value": "EMAA"}}},
     {"data": {"values": [{}]}, "mark": {"type": "text", "align": "left", "baseline": "middle", "fontSize": 18},
      "encoding": {"x": {"datum": 3.0, "type": "quantitative", "axis": null}, "y": {"datum": 338.5, "type": "quantitative", "axis": null}, "text": {"value": "EMAABA"}}},
     {"data": {"values": [{}]}, "mark": {"type": "text", "align": "left", "baseline": "middle", "fontSize": 12},
      "encoding": {"x": {"datum": 11.1, "type": "quantitative", "axis": null}, "y": {"datum": 317, "type": "quantitative", "axis": null}, "text": {"value": "Na"}}},
     {"data": {"values": [{}]}, "mark": {"type": "text", "align": "left", "baseline": "middle", "fontSize": 18},
      "encoding": {"x": {"datum": 3.2, "type": "quantitative", "axis": null}, "y": {"datum": 129.5, "type": "quantitative", "axis": null}, "text": {"value": "EMAABA"}}},
     {"data": {"values": [{}]}, "mark": {"type": "text", "align": "center", "baseline": "middle", "fontSize": 50, "font": "DejaVu Sans", "fontWeight": 200},
      "encoding": {"x": {"datum": 11.9, "type": "quantitative", "axis": null}, "y": {"datum": 555, "type": "quantitative", "axis": null}, "text": {"value": "}"}}},
     {"data": {"values": [{}]}, "mark": {"type": "text", "align": "center", "baseline": "middle", "fontSize": 50, "font": "DejaVu Sans", "fontWeight": 200},
      "encoding": {"x": {"datum": 12.75, "type": "quantitative", "axis": null}, "y": {"datum": 295.5, "type": "quantitative", "axis": null}, "text": {"value": "}"}}},
     {"data": {"values": [{}]}, "mark": {"type": "text", "align": "center", "baseline": "middle", "fontSize": 50, "font": "DejaVu Sans", "fontWeight": 200},
      "encoding": {"x": {"datum": 12.0, "type": "quantitative", "axis": null}, "y": {"datum": 113, "type": "quantitative", "axis": null}, "text": {"value": "}"}}}
    ]
   }
  ]
 }
]
}
